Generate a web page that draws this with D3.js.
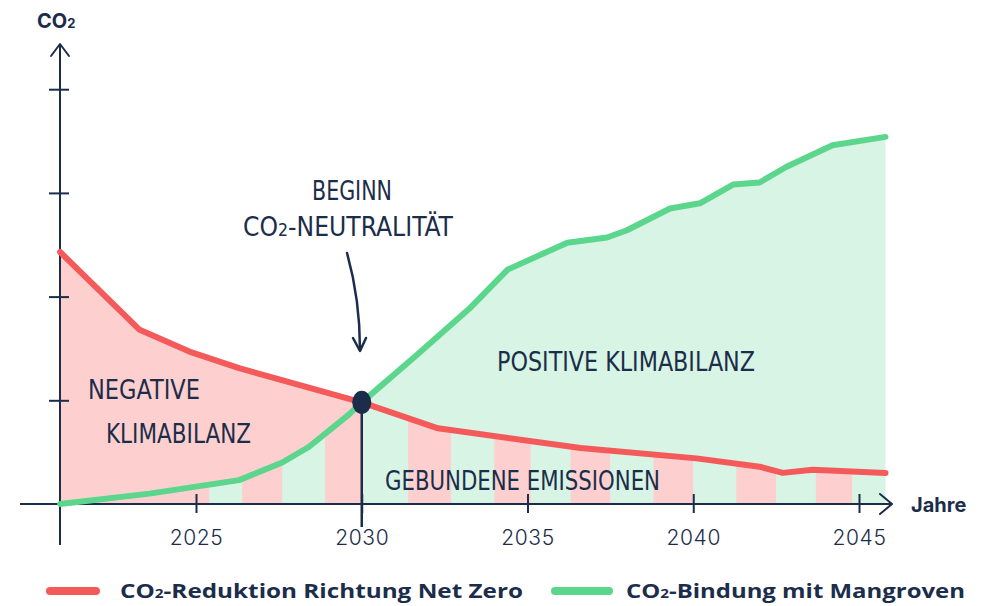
<!DOCTYPE html>
<html>
<head>
<meta charset="utf-8">
<script src="https://cdn.jsdelivr.net/npm/d3@7"></script>
<style>
  html, body { margin: 0; padding: 0; background: #fff; }
  svg { display: block; }
  .hand { font-family: "Liberation Sans Narrow", "DejaVu Sans Condensed", sans-serif; fill: #1b2d4a; }
  .tick text { font-family: Inter, "Open Sans", sans-serif; font-size: 21px; font-weight: 300; letter-spacing: 0.6px; fill: #1b2d4a; }
</style>
</head>
<body>
<svg id="chart" width="997" height="606"></svg>
<script>
// net zero reduction (red)
var redYears  = [2020.9, 2023.3, 2024.8, 2026.3, 2030, 2032.3, 2036.6, 2040.1, 2042.0, 2042.7, 2043.6, 2045.8];
var redValues = [2.43, 1.68, 1.47, 1.31, 0.98, 0.73, 0.54, 0.44, 0.36, 0.30, 0.33, 0.30];

// mangrove binding (green)
var greenYears  = [2020.9, 2023.6, 2026.3, 2027.6, 2028.4, 2029.6, 2030, 2031.6, 2033.3, 2034.4, 2036.2, 2037.4, 2038.0, 2039.3, 2040.2, 2041.2, 2042.0, 2042.8, 2044.2, 2045.8];
var greenValues = [0, 0.1, 0.23, 0.40, 0.55, 0.86, 0.98, 1.42, 1.90, 2.26, 2.52, 2.57, 2.64, 2.85, 2.90, 3.08, 3.10, 3.25, 3.46, 3.54];

// stripes under both lines ("gebundene emissionen")
var stripeEdges = [2020.9, 2025.4, 2026.4, 2027.6, 2028.9, 2030, 2031.4, 2032.7, 2034.0, 2035.1, 2036.3, 2037.5, 2038.8, 2040.0, 2041.3, 2042.5, 2043.7, 2044.8, 2045.8];

var yearTicks = [2025, 2030, 2035, 2040, 2045];
var co2Ticks = [1, 2, 3, 4];
var crossYear = 2030;

var legendLabels = ['CO\u2082-Reduktion Richtung Net Zero', 'CO\u2082-Bindung mit Mangroven'];

var navy = '#1b2d4a', red = '#f45a5a', green = '#5cd68d';
var pink = '#fdd0cf', mint = '#d7f4e4';

var svg = d3.select('#chart');

var x = d3.scaleLinear().domain([2025, 2045]).range([196, 859]);
var y = d3.scaleLinear().domain([0, 4]).range([504, 89.2]);

var redData = redYears.map(function(d, i){ return {year: d, value: redValues[i]}; });
var greenData = greenYears.map(function(d, i){ return {year: d, value: greenValues[i]}; });

var area = d3.area().x(function(d){ return x(d.year); }).y0(y(0)).y1(function(d){ return y(d.value); });
var line = d3.line().x(function(d){ return x(d.year); }).y(function(d){ return y(d.value); });

var defs = svg.append('defs');
defs.append('clipPath').attr('id', 'leftClip').append('rect')
  .attr('x', 0).attr('y', 0).attr('width', x(crossYear)).attr('height', 606);
defs.append('clipPath').attr('id', 'rightClip').append('rect')
  .attr('x', x(crossYear)).attr('y', 0).attr('width', 997).attr('height', 606);
defs.append('clipPath').attr('id', 'underRed').append('path').attr('d', area(redData));
defs.append('clipPath').attr('id', 'underGreen').append('path').attr('d', area(greenData));

// fills
svg.append('path').attr('d', area(redData)).attr('fill', pink).attr('clip-path', 'url(#leftClip)');
svg.append('path').attr('d', area(greenData)).attr('fill', mint).attr('clip-path', 'url(#rightClip)');

// stripes
var stripes = svg.append('g').attr('clip-path', 'url(#underGreen)')
  .append('g').attr('clip-path', 'url(#underRed)');
stripes.selectAll('rect')
  .data(d3.pairs(stripeEdges))
  .enter().append('rect')
  .attr('x', function(d){ return x(d[0]); })
  .attr('width', function(d){ return x(d[1]) - x(d[0]); })
  .attr('y', y(4))
  .attr('height', y(0) - y(4))
  .attr('fill', function(d, i){ return i % 2 ? mint : pink; });

// axes
var xAxis = d3.axisBottom(x).tickValues(yearTicks).tickSize(0).tickPadding(0).tickFormat(d3.format('d'));
var gx = svg.append('g').attr('transform', 'translate(0,' + y(0) + ')').call(xAxis);
gx.select('.domain').remove();
gx.selectAll('.tick line').attr('y1', -10).attr('y2', 9).attr('stroke', navy).attr('stroke-width', 2);
gx.selectAll('.tick text').attr('y', 41).attr('dy', 0);

var yAxis = d3.axisLeft(y).tickValues(co2Ticks).tickSize(0).tickFormat('');
var gy = svg.append('g').attr('transform', 'translate(60,0)').call(yAxis);
gy.select('.domain').remove();
gy.selectAll('.tick line').attr('x1', -11).attr('x2', 9).attr('stroke', navy).attr('stroke-width', 2);

svg.append('line').attr('x1', 20).attr('x2', 892).attr('y1', y(0)).attr('y2', y(0))
  .attr('stroke', navy).attr('stroke-width', 2);
svg.append('path').attr('d', 'M880,' + (y(0) - 10) + 'L892,' + y(0) + 'L880,' + (y(0) + 10))
  .attr('fill', 'none').attr('stroke', navy).attr('stroke-width', 2).attr('stroke-linecap', 'round').attr('stroke-linejoin', 'round');
svg.append('line').attr('x1', 60).attr('x2', 60).attr('y1', 44).attr('y2', 545)
  .attr('stroke', navy).attr('stroke-width', 2);
svg.append('path').attr('d', 'M51,56L60,44L69,56')
  .attr('fill', 'none').attr('stroke', navy).attr('stroke-width', 2).attr('stroke-linecap', 'round').attr('stroke-linejoin', 'round');

svg.append('text').attr('x', 37).attr('y', 28)
  .style('font-family', 'Inter, "Open Sans", sans-serif').style('font-weight', 700).style('font-size', '20px').attr('fill', navy)
  .html('CO<tspan font-size="13px">2</tspan>');
svg.append('text').attr('x', 911).attr('y', 512)
  .style('font-family', 'Inter, "Open Sans", sans-serif').style('font-weight', 700).style('font-size', '20px').attr('fill', navy)
  .text('Jahre');

// lines
svg.append('path').attr('d', line(redData)).attr('fill', 'none').attr('stroke', red)
  .attr('stroke-width', 6).attr('stroke-linejoin', 'round').attr('stroke-linecap', 'round');
svg.append('path').attr('d', line(greenData)).attr('fill', 'none').attr('stroke', green)
  .attr('stroke-width', 6).attr('stroke-linejoin', 'round').attr('stroke-linecap', 'round');

// 2030 marker
var crossVal = redValues[redYears.indexOf(crossYear)];
svg.append('line').attr('x1', x(crossYear)).attr('x2', x(crossYear)).attr('y1', y(crossVal)).attr('y2', 527)
  .attr('stroke', navy).attr('stroke-width', 2.5);
svg.append('ellipse').attr('cx', x(crossYear)).attr('cy', y(crossVal)).attr('rx', 9.5).attr('ry', 11.5).attr('fill', navy);

// annotation arrow
svg.append('path').attr('d', 'M347,253C356,285 360,318 360,350')
  .attr('fill', 'none').attr('stroke', navy).attr('stroke-width', 2.5).attr('stroke-linecap', 'round');
svg.append('path').attr('d', 'M353,338L360,351L366,338')
  .attr('fill', 'none').attr('stroke', navy).attr('stroke-width', 2.5).attr('stroke-linecap', 'round').attr('stroke-linejoin', 'round');

// hand lettering
function hand(txt, x0, base, w, size){
  svg.append('text').attr('class', 'hand').attr('x', x0).attr('y', base)
    .attr('textLength', w).attr('lengthAdjust', 'spacingAndGlyphs')
    .style('font-size', size + 'px').text(txt);
}
hand('BEGINN', 312, 200, 80, 27);
svg.append('text').attr('class', 'hand').attr('x', 243).attr('y', 236)
  .attr('textLength', 210).attr('lengthAdjust', 'spacingAndGlyphs').style('font-size', '27px')
  .html('CO<tspan font-size="18px">2</tspan>-NEUTRALITÄT');
hand('NEGATIVE', 88, 399, 112, 27);
hand('KLIMABILANZ', 106, 443, 145, 27);
hand('POSITIVE KLIMABILANZ', 497, 371, 258, 27);
hand('GEBUNDENE EMISSIONEN', 385, 490, 275, 27);

// legend
var legendSwatch = [[50, 96, red], [555, 609, green]];
var legendText = [[120, 403], [626, 339]];
legendLabels.forEach(function(lbl, i){
  svg.append('line').attr('x1', legendSwatch[i][0]).attr('x2', legendSwatch[i][1]).attr('y1', 591).attr('y2', 591)
    .attr('stroke', legendSwatch[i][2]).attr('stroke-width', 8).attr('stroke-linecap', 'round');
  var parts = lbl.split('\u2082');
  svg.append('text').attr('x', legendText[i][0]).attr('y', 598)
    .attr('textLength', legendText[i][1]).attr('lengthAdjust', 'spacingAndGlyphs')
    .style('font-family', '"Open Sans", sans-serif').style('font-weight', 700).style('font-size', '19px').attr('fill', navy)
    .html(parts[0] + '<tspan font-size="12px">2</tspan>' + parts[1]);
});
</script>
</body>
</html>
